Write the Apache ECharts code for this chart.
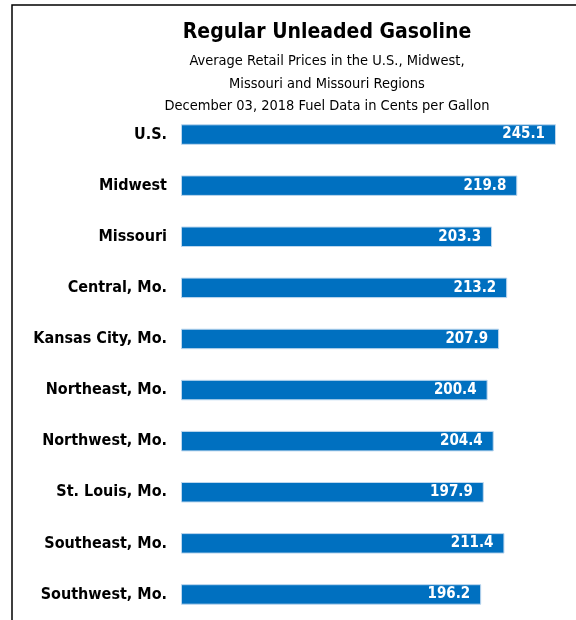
<!DOCTYPE html>
<html>
<head>
<meta charset="utf-8">
<script src="https://cdn.jsdelivr.net/npm/echarts@6/dist/echarts.min.js"></script>
<style>
html,body{margin:0;padding:0;background:#fff;}
#c{width:576px;height:620px;}
</style>
</head>
<body>
<div id="c"></div>
<script>
const categories = ["U.S.", "Midwest", "Missouri", "Central, Mo.", "Kansas City, Mo.", "Northeast, Mo.", "Northwest, Mo.", "St. Louis, Mo.", "Southeast, Mo.", "Southwest, Mo."];
const prices = [245.1, 219.8, 203.3, 213.2, 207.9, 200.4, 204.4, 197.9, 211.4, 196.2];
const titleText = "Regular Unleaded Gasoline";
const subtitleText = "Average Retail Prices in the U.S., Midwest,\nMissouri and Missouri Regions\nDecember 03, 2018 Fuel Data in Cents per Gallon";

const narrow = '"Liberation Sans Narrow", "Arial Narrow", "DejaVu Sans Condensed", sans-serif';
const chart = echarts.init(document.getElementById('c'));
chart.setOption({
  animation: false,
  title: {
    text: titleText,
    subtext: subtitleText,
    left: 327,
    textAlign: 'center',
    top: 21,
    itemGap: 5,
    padding: 0,
    textStyle: { fontFamily: narrow, fontSize: 21, lineHeight: 24, fontWeight: 'bold', color: '#000' },
    subtextStyle: { fontFamily: narrow, fontSize: 14.5, color: '#000', lineHeight: 22.5, align: 'center' }
  },
  grid: { left: 181, top: 109, width: 382.5, height: 514, containLabel: false },
  xAxis: {
    type: 'value', min: 0, max: 250,
    show: false
  },
  yAxis: {
    type: 'category', data: categories, inverse: true,
    axisLine: { show: false }, axisTick: { show: false },
    axisLabel: { fontFamily: narrow, fontSize: 16, fontWeight: 'bold', color: '#000', margin: 14 }
  },
  series: [{
    type: 'bar', data: prices, barWidth: 20.5,
    itemStyle: { color: '#0070C0', borderColor: '#BDD7EE', borderWidth: 1 },
    label: {
      show: true, position: 'insideRight', distance: 11,
      fontFamily: narrow, fontSize: 15, fontWeight: 'bold', color: '#fff',
      formatter: p => p.value.toFixed(1)
    }
  }],
  graphic: [{
    type: 'polyline',
    shape: { points: [[12, 620], [12, 5], [576, 5]] },
    style: { stroke: '#000', lineWidth: 1.5, fill: null }
  }]
});
</script>
</body>
</html>
